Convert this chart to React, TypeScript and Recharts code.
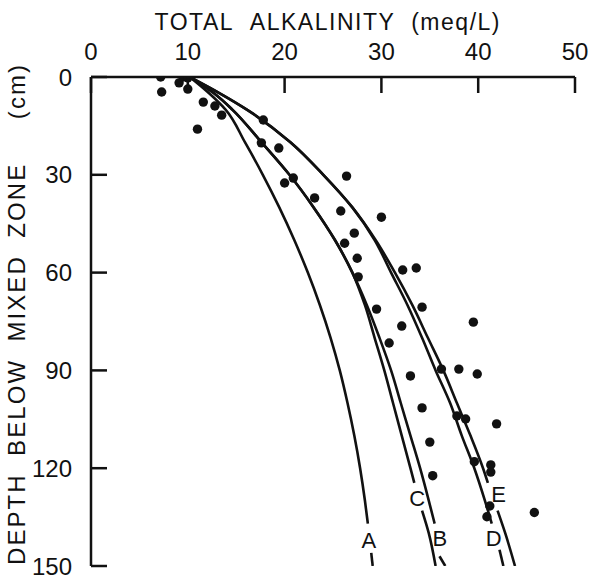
import React from 'react';
import { ComposedChart, XAxis, YAxis, Scatter, Label } from 'recharts';

const xTicks = [0, 10, 20, 30, 40, 50];
const yTicks = [0, 30, 60, 90, 120, 150];

const observed = [
  { x: 7.2, z: 0 }, { x: 7.3, z: 4.6 }, { x: 9.1, z: 1.8 }, { x: 9.5, z: 0 }, { x: 10.0, z: 0.3 },
  { x: 10.0, z: 3.7 }, { x: 11.6, z: 7.7 }, { x: 12.8, z: 8.9 }, { x: 13.5, z: 11.7 }, { x: 11.0, z: 16 },
  { x: 17.8, z: 13.2 }, { x: 17.6, z: 20.2 }, { x: 19.4, z: 21.8 }, { x: 20.0, z: 32.5 }, { x: 20.9, z: 31 },
  { x: 23.1, z: 37.1 }, { x: 26.4, z: 30.4 }, { x: 25.8, z: 41.1 }, { x: 30.0, z: 43 }, { x: 27.2, z: 47.9 },
  { x: 26.2, z: 51 }, { x: 27.5, z: 55.6 }, { x: 27.6, z: 61.3 }, { x: 32.2, z: 59.2 }, { x: 33.6, z: 58.6 },
  { x: 34.2, z: 70.6 }, { x: 29.5, z: 71.2 }, { x: 32.1, z: 76.4 }, { x: 30.8, z: 81.6 }, { x: 39.5, z: 75.2 },
  { x: 36.2, z: 89.6 }, { x: 38.0, z: 89.6 }, { x: 39.9, z: 91.1 }, { x: 33.0, z: 91.7 }, { x: 34.2, z: 101.5 },
  { x: 37.8, z: 104 }, { x: 38.7, z: 104.9 }, { x: 41.9, z: 106.4 }, { x: 35.0, z: 112 }, { x: 39.6, z: 118 },
  { x: 41.3, z: 119 }, { x: 41.3, z: 121.2 }, { x: 35.3, z: 122.3 }, { x: 41.2, z: 131.6 }, { x: 40.9, z: 134.9 },
  { x: 45.8, z: 133.6 },
];

const curveAUpper = [
  { x: 10.2, z: 0 }, { x: 12.2, z: 5 }, { x: 13.9, z: 10 }, { x: 15.9, z: 20 }, { x: 17.75, z: 30 },
  { x: 19.45, z: 40 }, { x: 21.0, z: 50 }, { x: 22.4, z: 60 }, { x: 23.65, z: 70 }, { x: 24.75, z: 80 },
  { x: 25.7, z: 90 }, { x: 26.5, z: 100 }, { x: 27.2, z: 110 }, { x: 27.8, z: 120 }, { x: 28.3, z: 130 },
  { x: 28.6, z: 137 },
];
const curveALower = [{ x: 28.95, z: 146 }, { x: 29.1, z: 150 }];

const curveBUpper = [
  { x: 10.2, z: 0 }, { x: 12.7, z: 5 }, { x: 14.6, z: 10 }, { x: 17.6, z: 20 }, { x: 20.5, z: 30 },
  { x: 23.0, z: 40 }, { x: 25.2, z: 50 }, { x: 27.0, z: 60 }, { x: 28.5, z: 70 }, { x: 29.8, z: 80 },
  { x: 31.0, z: 90 }, { x: 32.0, z: 100 }, { x: 33.0, z: 110 }, { x: 34.0, z: 120 }, { x: 34.9, z: 130 },
  { x: 35.5, z: 137 },
];
const curveBLower = [{ x: 36.0, z: 147 }, { x: 36.6, z: 150 }];

const curveCUpper = [
  { x: 10.2, z: 0 }, { x: 12.7, z: 5 }, { x: 14.6, z: 10 }, { x: 17.6, z: 20 }, { x: 20.5, z: 30 },
  { x: 23.0, z: 40 }, { x: 25.2, z: 50 }, { x: 27.0, z: 60 }, { x: 28.3, z: 70 }, { x: 29.3, z: 80 },
  { x: 30.3, z: 90 }, { x: 31.2, z: 100 }, { x: 32.1, z: 110 }, { x: 33.0, z: 120 }, { x: 33.4, z: 124.5 },
];
const curveCLower = [{ x: 34.2, z: 133 }, { x: 34.9, z: 140 }, { x: 35.6, z: 150 }];

const curveDUpper = [
  { x: 10.2, z: 0 }, { x: 13.3, z: 5 }, { x: 16.1, z: 10 }, { x: 20.6, z: 20 }, { x: 24.0, z: 30 },
  { x: 27.0, z: 40 }, { x: 29.3, z: 50 }, { x: 31.0, z: 60 }, { x: 32.7, z: 70 }, { x: 34.2, z: 80 },
  { x: 35.6, z: 90 }, { x: 37.1, z: 100 }, { x: 38.3, z: 110 }, { x: 39.6, z: 120 }, { x: 40.7, z: 130 },
  { x: 41.4, z: 137 },
];
const curveDLower = [{ x: 42.2, z: 145 }, { x: 42.6, z: 150 }];

const curveEUpper = [
  { x: 10.2, z: 0 }, { x: 13.3, z: 5 }, { x: 16.1, z: 10 }, { x: 20.6, z: 20 }, { x: 24.0, z: 30 },
  { x: 27.0, z: 40 }, { x: 29.4, z: 50 }, { x: 31.4, z: 60 }, { x: 33.2, z: 70 }, { x: 34.8, z: 80 },
  { x: 36.4, z: 90 }, { x: 37.8, z: 100 }, { x: 39.2, z: 110 }, { x: 40.5, z: 120 }, { x: 41.0, z: 124.5 },
];
const curveELower = [{ x: 42.0, z: 133 }, { x: 42.8, z: 140 }, { x: 43.8, z: 150 }];

const curveLabels = [
  { x: 28.7, z: 142, name: 'A' },
  { x: 36.05, z: 141.4, name: 'B' },
  { x: 33.7, z: 129, name: 'C' },
  { x: 41.6, z: 141.4, name: 'D' },
  { x: 42.1, z: 128, name: 'E' },
];

const FONT = '"Liberation Sans", Arial, sans-serif';
const INK = '#111';

const curves = [
  curveAUpper, curveALower, curveBUpper, curveBLower, curveCUpper, curveCLower,
  curveDUpper, curveDLower, curveEUpper, curveELower,
];

const XTick = (props: any) => {
  const { x, y, payload } = props;
  return (
    <g>
      <line x1={x} y1={y} x2={x} y2={y + 16} stroke={INK} strokeWidth={2.5} />
      <text x={x} y={y - 17} textAnchor="middle" fontFamily={FONT} fontSize={24} fill={INK}>
        {payload.value}
      </text>
    </g>
  );
};

const YTick = (props: any) => {
  const { x, y, payload } = props;
  return (
    <g>
      <line x1={x} y1={y} x2={x + 16} y2={y} stroke={INK} strokeWidth={2.5} />
      <text x={x - 19} y={y + 8.5} textAnchor="end" fontFamily={FONT} fontSize={24} fill={INK}>
        {payload.value}
      </text>
    </g>
  );
};

const TitleLabel = () => (
  <text x={327} y={30} textAnchor="middle" fontFamily={FONT} fontSize={23} fill={INK}
    textLength={345} lengthAdjust="spacing">
    {'TOTAL\u00A0\u00A0ALKALINITY\u00A0\u00A0(meq/L)'}
  </text>
);

const DepthLabel = () => (
  <text x={25} y={315} transform="rotate(-90, 25, 315)" textAnchor="middle" fontFamily={FONT}
    fontSize={24} fill={INK} textLength={500} lengthAdjust="spacing">
    {'DEPTH\u00A0\u00A0BELOW\u00A0\u00A0MIXED\u00A0\u00A0ZONE\u00A0\u00A0\u00A0\u00A0\u00A0(cm)'}
  </text>
);

const noDot = () => <g />;

const dot = (props: any) => <circle cx={props.cx} cy={props.cy} r={4.7} fill={INK} />;

const letter = (props: any) => (
  <text x={props.cx} y={props.cy + 8} textAnchor="middle" fontFamily={FONT} fontSize={22} fill={INK}>
    {props.payload.name}
  </text>
);

export default function App() {
  return (
    <div style={{ position: 'absolute', left: 0, top: 0, background: '#fff' }}>
      <ComposedChart width={595} height={578} margin={{ top: 76, left: 90, right: 20, bottom: 12 }}>
        <XAxis type="number" dataKey="x" orientation="top" domain={[0, 50]} ticks={xTicks}
          interval={0} height={1} tickSize={0} tickMargin={0} tick={XTick} tickLine={false}
          axisLine={{ stroke: INK, strokeWidth: 2.5 }} allowDataOverflow>
          <Label content={TitleLabel} />
        </XAxis>
        <YAxis type="number" dataKey="z" domain={[0, 150]} reversed ticks={yTicks} interval={0}
          width={1} tickSize={0} tickMargin={0} tick={YTick} tickLine={false}
          axisLine={{ stroke: INK, strokeWidth: 2.5 }} allowDataOverflow>
          <Label content={DepthLabel} />
        </YAxis>
        {curves.map((c, i) => (
          <Scatter key={i} data={c} line={{ stroke: INK, strokeWidth: 2.6 }} lineJointType="monotoneY"
            shape={noDot} isAnimationActive={false} />
        ))}
        <Scatter data={observed} shape={dot} isAnimationActive={false} />
        <Scatter data={curveLabels} shape={letter} isAnimationActive={false} />
      </ComposedChart>
    </div>
  );
}
